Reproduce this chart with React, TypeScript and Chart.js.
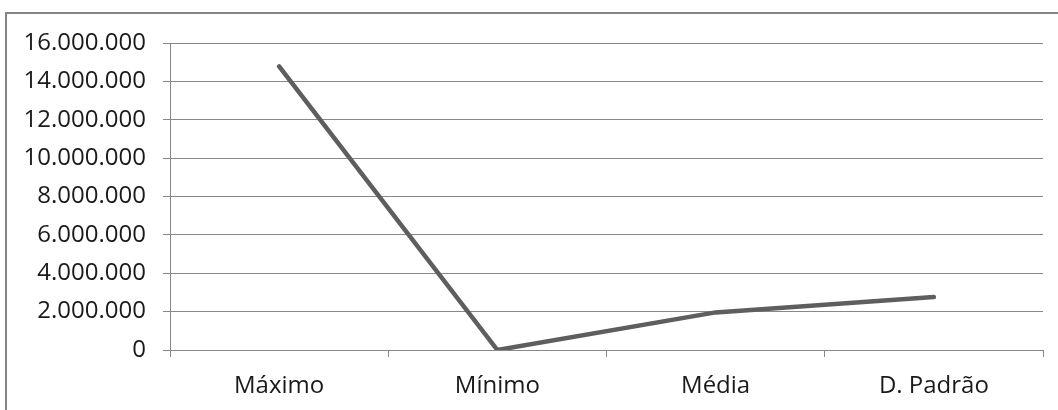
import React, { useEffect, useRef } from "react";
import { Chart, registerables } from "chart.js";

Chart.register(...registerables);

const categories = ["Máximo", "Mínimo", "Média", "D. Padrão"];
const values = [14780000, 0, 1960000, 2760000];
const yMin = 0;
const yMax = 16000000;
const yStep = 2000000;

const fmt = (v: number) => String(Math.round(v)).replace(/\B(?=(\d{3})+(?!\d))/g, ".");

export default function App() {
  const ref = useRef<HTMLCanvasElement | null>(null);
  useEffect(() => {
    if (!ref.current) return;
    const font = { family: "'Open Sans', sans-serif", size: 24 };
    const chart = new Chart(ref.current, {
      type: "line",
      data: {
        labels: categories,
        datasets: [
          {
            data: values,
            borderColor: "#5e5e5e",
            borderWidth: 4.5,
            pointRadius: 0,
            borderCapStyle: "round",
            borderJoinStyle: "round",
            tension: 0,
          },
        ],
      },
      options: {
        animation: false,
        responsive: true,
        maintainAspectRatio: false,
        layout: { padding: { left: 0, right: 15, top: 43, bottom: 0 } },
        plugins: { legend: { display: false }, tooltip: { enabled: false } },
        scales: {
          x: {
            type: "category",
            offset: true,
            grid: {
              offset: true,
              drawOnChartArea: false,
              drawTicks: true,
              tickLength: 7,
              color: "#888888",
            },
            border: { display: true, color: "#888888" },
            ticks: { color: "#1a1a1a", font, padding: 15, maxRotation: 0 },
            afterFit: (s: any) => {
              s.height = 60;
            },
          },
          y: {
            min: yMin,
            max: yMax,
            grid: { color: "#888888", tickLength: 7, drawTicks: true },
            border: { display: true, color: "#888888" },
            ticks: {
              stepSize: yStep,
              color: "#1a1a1a",
              font,
              padding: 17,
              callback: (v: any) => fmt(Number(v)),
            },
            afterFit: (s: any) => {
              s.width = 170;
            },
          },
        },
      },
    });
    return () => chart.destroy();
  }, []);
  return (
    <div
      style={{
        position: "fixed",
        left: 0,
        top: 0,
        width: 1058,
        height: 410,
        overflow: "hidden",
        background: "#ffffff",
      }}
    >
      <div
        style={{
          position: "absolute",
          left: 5,
          top: 12,
          width: 1200,
          height: 600,
          border: "2px solid #858585",
          boxSizing: "border-box",
        }}
      />
      <div style={{ position: "absolute", left: 0, top: 0, width: 1058, height: 410 }}>
        <canvas ref={ref} />
      </div>
    </div>
  );
}
